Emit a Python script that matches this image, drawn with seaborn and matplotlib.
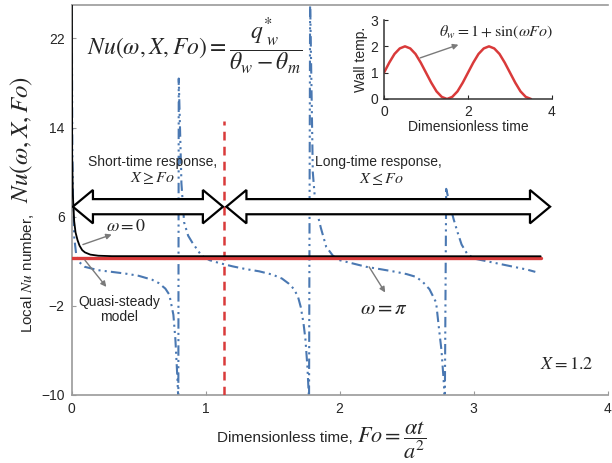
import numpy as np
import pandas as pd
import matplotlib
matplotlib.use("Agg")
import matplotlib.pyplot as plt
from matplotlib.patches import Polygon
import seaborn as sns

# ---- data ----
# omega = 0 (black) curve
fo_w0 = [0.001, 0.005, 0.01, 0.02, 0.03, 0.045, 0.06, 0.08, 0.1, 0.14, 0.2, 0.3, 3.5]
nu_w0 = [40, 11.5, 8.0, 5.6, 4.6, 3.9, 3.4, 3.0, 2.8, 2.6, 2.5, 2.46, 2.45]

# quasi-steady model (red)
fo_qs = [0.0, 3.5]
nu_qs = [2.3, 2.3]

# omega = pi (blue dash-dot-dot), jumps at the singularities kept as drawn
fo_wpi = [0.002, 0.006, 0.012, 0.02, 0.035, 0.05, 0.1, 0.2, 0.3, 0.4, 0.5, 0.6, 0.65, 0.7, 0.73, 0.76, 0.775, 0.79, 0.797,
          0.80, 0.82, 0.84, 0.87, 0.9, 0.97, 1.03, 1.1, 1.2, 1.3, 1.4, 1.5, 1.57, 1.62, 1.66, 1.69, 1.71, 1.73, 1.745, 1.76, 1.772,
          1.78, 1.80, 1.82, 1.86, 1.9, 1.95, 2.0, 2.1, 2.2, 2.3, 2.42, 2.5, 2.57, 2.62, 2.67, 2.72, 2.74, 2.76, 2.775, 2.785,
          2.795, 2.82, 2.85, 2.88, 2.91, 2.95, 3.0, 3.1, 3.2, 3.3, 3.4, 3.46]
nu_wpi = [26, 12, 7, 4.2, 2.6, 2.0, 1.5, 1.2, 1.05, 0.9, 0.7, 0.35, 0.05, -0.45, -1.0, -2.8, -5, -8.5, -10.5,
          18.4, 9, 5.5, 4.3, 3.7, 2.5, 2.1, 1.85, 1.55, 1.3, 1.1, 0.8, 0.45, 0.0, -0.5, -1.2, -2.1, -3.5, -5, -7.5, -10.5,
          25.5, 10, 7, 5, 3.3, 2.5, 2.1, 1.8, 1.5, 1.3, 1.05, 0.85, 0.6, 0.15, -0.5, -1.7, -3.9, -6, -8.5, -10.5,
          8.5, 7.2, 5.8, 4.6, 3.5, 2.7, 2.25, 2.0, 1.75, 1.5, 1.25, 1.05]

# boundary between short- and long-time response
fo_split = 1.14
nu_split_top = 14.6

# inset: wall temperature
fo_wall = [0, 0.125, 0.25, 0.375, 0.5, 0.625, 0.75, 0.875, 1.0, 1.125, 1.25, 1.375, 1.5, 1.625, 1.75,
           1.875, 2.0, 2.125, 2.25, 2.375, 2.5, 2.625, 2.75, 2.875, 3.0, 3.125, 3.25, 3.375, 3.5]
theta_wall = [1, 1.38, 1.71, 1.92, 2, 1.92, 1.71, 1.38, 1, 0.62, 0.29, 0.08, 0, 0.08, 0.29,
              0.62, 1, 1.38, 1.71, 1.92, 2, 1.92, 1.71, 1.38, 1, 0.62, 0.29, 0.08, 0]

x_ticks = [0, 1, 2, 3, 4]
y_ticks = [-10, -2, 6, 14, 22]

BLUE = '#4a78b2'
RED = '#d93a3a'
SPINE = '#9a9a9a'

sns.set_style("ticks")
plt.rcParams['font.family'] = ['Liberation Sans', 'DejaVu Sans']
plt.rcParams['mathtext.fontset'] = 'stix'

fig = plt.figure(figsize=(6.12, 4.63), dpi=100)
ax = fig.add_axes([71.5 / 612, 1 - 395 / 463, 0.993 - 71.5 / 612, 390 / 463])

sns.lineplot(x=fo_qs, y=nu_qs, ax=ax, color=RED, lw=2.4, sort=False, estimator=None, zorder=3)
sns.lineplot(x=fo_w0, y=nu_w0, ax=ax, color='black', lw=1.3, sort=False, estimator=None, zorder=4)
sns.lineplot(x=fo_wpi, y=nu_wpi, ax=ax, color=BLUE, lw=1.5, sort=False, estimator=None,
             linestyle=(0, (5, 2, 1, 2, 1, 2)), zorder=2)
ax.plot([fo_split, fo_split], [-10, nu_split_top], color=RED, lw=1.8, ls=(0, (3.5, 2.5)), zorder=3)

ax.set_xlim(0, 4)
ax.set_ylim(-10, 25)
ax.set_xticks(x_ticks)
ax.set_yticks(y_ticks)
ax.tick_params(direction='in', length=3, color=SPINE, labelsize=10, pad=5)
for s in ['left', 'bottom', 'top']:
    ax.spines[s].set_color(SPINE)
    ax.spines[s].set_linewidth(1.2)
ax.spines['right'].set_visible(False)
ax.set_xlabel('')
ax.set_ylabel('')


def block_arrow(ax, x0, x1, y, half_shaft=0.68, half_head=1.5, head_len=0.15):
    pts = [(x0, y), (x0 + head_len, y + half_head), (x0 + head_len, y + half_shaft),
           (x1 - head_len, y + half_shaft), (x1 - head_len, y + half_head), (x1, y),
           (x1 - head_len, y - half_head), (x1 - head_len, y - half_shaft),
           (x0 + head_len, y - half_shaft), (x0 + head_len, y - half_head)]
    ax.add_patch(Polygon(pts, closed=True, fc='white', ec='black', lw=1.6,
                         joinstyle='miter', zorder=6))


block_arrow(ax, 0.01, 1.13, 6.9)
block_arrow(ax, 1.155, 3.57, 6.9)

ax.text(0.605, 10.95, 'Short-time response,', ha='center', va='center', fontsize=10)
ax.text(0.605, 9.45, r'$X \geq Fo$', ha='center', va='center', fontsize=11.5)
ax.text(2.29, 10.95, 'Long-time response,', ha='center', va='center', fontsize=10)
ax.text(2.31, 9.4, r'$X \leq Fo$', ha='center', va='center', fontsize=11.5)

ax.text(0.115, 21.3, r'$Nu\left(\omega,X,Fo\right)=\dfrac{q^{*}_{\ w}}{\theta_{w}-\theta_{m}}$',
        ha='left', va='center', fontsize=17)

ax.text(0.406, 5.1, r'$\omega=0$', ha='center', va='center', fontsize=13)
ax.text(0.354, -2.35, 'Quasi-steady\nmodel', ha='center', va='center', fontsize=10, linespacing=1.05)
ax.text(2.33, -2.2, r'$\omega=\pi$', ha='center', va='center', fontsize=15)
ax.text(3.69, -7.3, r'$X=1.2$', ha='center', va='center', fontsize=13)

arw = dict(arrowstyle='-|>', color='#7a7a7a', lw=1.0, mutation_scale=8, shrinkA=0, shrinkB=0)
ax.annotate('', xy=(0.30, 4.4), xytext=(0.085, 3.5), arrowprops=arw, zorder=7)
ax.annotate('', xy=(0.26, -0.3), xytext=(0.10, 2.1), arrowprops=arw, zorder=7)
ax.annotate('', xy=(2.34, -0.8), xytext=(2.22, 1.5), arrowprops=arw, zorder=7)

# axis labels built from pieces (sans text + larger serif formula)
fig.text(28 / 612, 1 - 333 / 463, r'Local $\mathit{Nu}$ number,', rotation=90,
         ha='center', va='bottom', fontsize=11)
fig.text(22 / 612, 1 - 203 / 463, r'$Nu\left(\omega,X,Fo\right)$', rotation=90,
         ha='center', va='bottom', fontsize=18)
fig.text(353 / 612, 1 - 438 / 463, 'Dimensionless time,', ha='right', va='center', fontsize=11)
fig.text(357 / 612, 1 - 440 / 463, r'$Fo=\dfrac{\alpha t}{a^{2}}$', ha='left', va='center', fontsize=16)

# inset
axin = fig.add_axes([384 / 612, 1 - 99 / 463, 168 / 612, 79 / 463])
sns.lineplot(x=fo_wall, y=theta_wall, ax=axin, color=RED, lw=1.8, sort=False, estimator=None)
axin.set_xlim(0, 4)
axin.set_ylim(0, 3)
axin.set_xticks([0, 2, 4])
axin.set_yticks([0, 1, 2, 3])
axin.tick_params(direction='in', length=3, labelsize=10, pad=4)
sns.despine(ax=axin)
for s in ['left', 'bottom']:
    axin.spines[s].set_color('#333333')
    axin.spines[s].set_linewidth(1.1)
axin.set_xlabel('Dimensionless time', fontsize=10, labelpad=1)
axin.set_ylabel('Wall temp.', fontsize=10, labelpad=2)
axin.patch.set_alpha(0)
axin.annotate(r'$\theta_{w}=1+\sin(\omega Fo)$', xy=(0.86, 1.56), xytext=(1.3, 2.55),
              ha='left', va='center', fontsize=11.5,
              arrowprops=dict(arrowstyle='<|-', color='#7a7a7a', lw=1.0, mutation_scale=8,
                              shrinkA=2, shrinkB=0))

fig.savefig('out.png', dpi=100)
